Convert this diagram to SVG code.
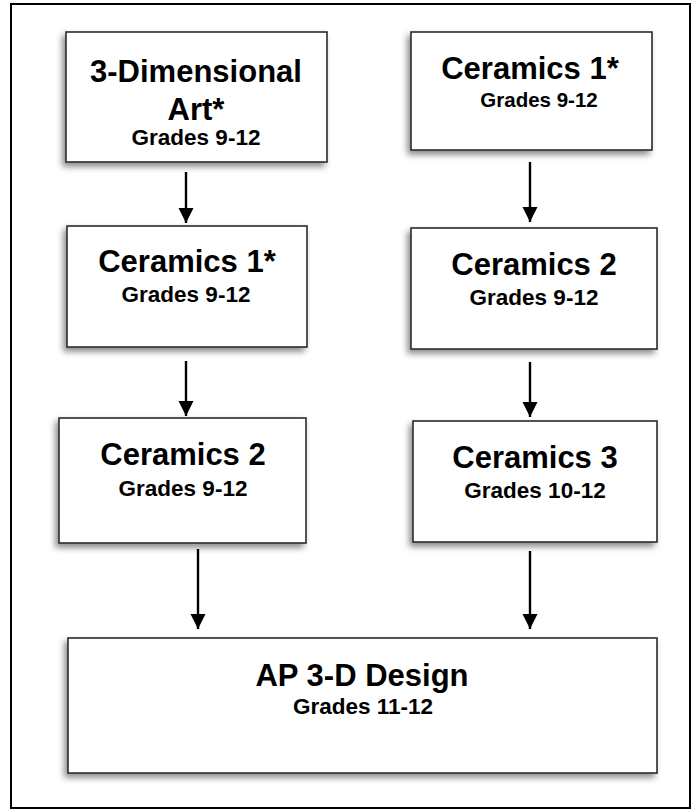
<svg xmlns="http://www.w3.org/2000/svg" width="692" height="810" viewBox="0 0 692 810">
<defs>
<filter id="sh" x="-10%" y="-10%" width="120%" height="130%">
<feDropShadow dx="-3" dy="4" stdDeviation="3" flood-color="#000" flood-opacity="0.45"/>
</filter>
<marker id="ah" markerUnits="userSpaceOnUse" markerWidth="16" markerHeight="16" viewBox="0 0 16 16" refX="15" refY="8" orient="auto">
<path d="M0,0.5 L15,8 L0,15.5 Z" fill="#000"/>
</marker>
<style>
.box{fill:#fff;stroke:#2a2a2a;stroke-width:1.6;filter:url(#sh)}
.t{font-family:"Liberation Sans",Arial,sans-serif;font-weight:bold;fill:#000;text-anchor:middle}
.h{font-size:31px}
.s{font-size:22.5px}
.c{stroke:#000;stroke-width:2.4;fill:none;marker-end:url(#ah)}
</style>
</defs>
<rect width="692" height="810" fill="#fff"/>
<rect x="11" y="4" width="679" height="804" fill="none" stroke="#000" stroke-width="2"/>
<g id="connectors">
<line class="c" x1="186" y1="172" x2="186" y2="223"/>
<line class="c" x1="530" y1="162" x2="530" y2="222"/>
<line class="c" x1="186" y1="361" x2="186" y2="416"/>
<line class="c" x1="530" y1="362" x2="530" y2="417"/>
<line class="c" x1="198" y1="549" x2="198" y2="629"/>
<line class="c" x1="530" y1="551" x2="530" y2="629"/>
</g>
<g id="n1">
<rect class="box" x="66" y="32" width="261" height="130"/>
<text class="t h" x="196" y="82">3-Dimensional</text>
<text class="t h" x="196" y="120">Art*</text>
<text class="t s" x="196" y="145">Grades 9-12</text>
</g>
<g id="n2">
<rect class="box" x="411" y="32" width="241" height="118"/>
<text class="t h" x="530" y="79">Ceramics 1*</text>
<text class="t s" x="539" y="107" style="font-size:20.5px">Grades 9-12</text>
</g>
<g id="n3">
<rect class="box" x="67" y="226" width="240" height="121"/>
<text class="t h" x="187" y="272">Ceramics 1*</text>
<text class="t s" x="186" y="302">Grades 9-12</text>
</g>
<g id="n4">
<rect class="box" x="411" y="228" width="246" height="121"/>
<text class="t h" x="534" y="275">Ceramics 2</text>
<text class="t s" x="534" y="305">Grades 9-12</text>
</g>
<g id="n5">
<rect class="box" x="59" y="418" width="247" height="125"/>
<text class="t h" x="183" y="465">Ceramics 2</text>
<text class="t s" x="183" y="496">Grades 9-12</text>
</g>
<g id="n6">
<rect class="box" x="413" y="421" width="244" height="121"/>
<text class="t h" x="535" y="468">Ceramics 3</text>
<text class="t s" x="535" y="498">Grades 10-12</text>
</g>
<g id="n7">
<rect class="box" x="68" y="638" width="589" height="135"/>
<text class="t h" x="362" y="686">AP 3-D Design</text>
<text class="t s" x="363" y="714">Grades 11-12</text>
</g>
</svg>
